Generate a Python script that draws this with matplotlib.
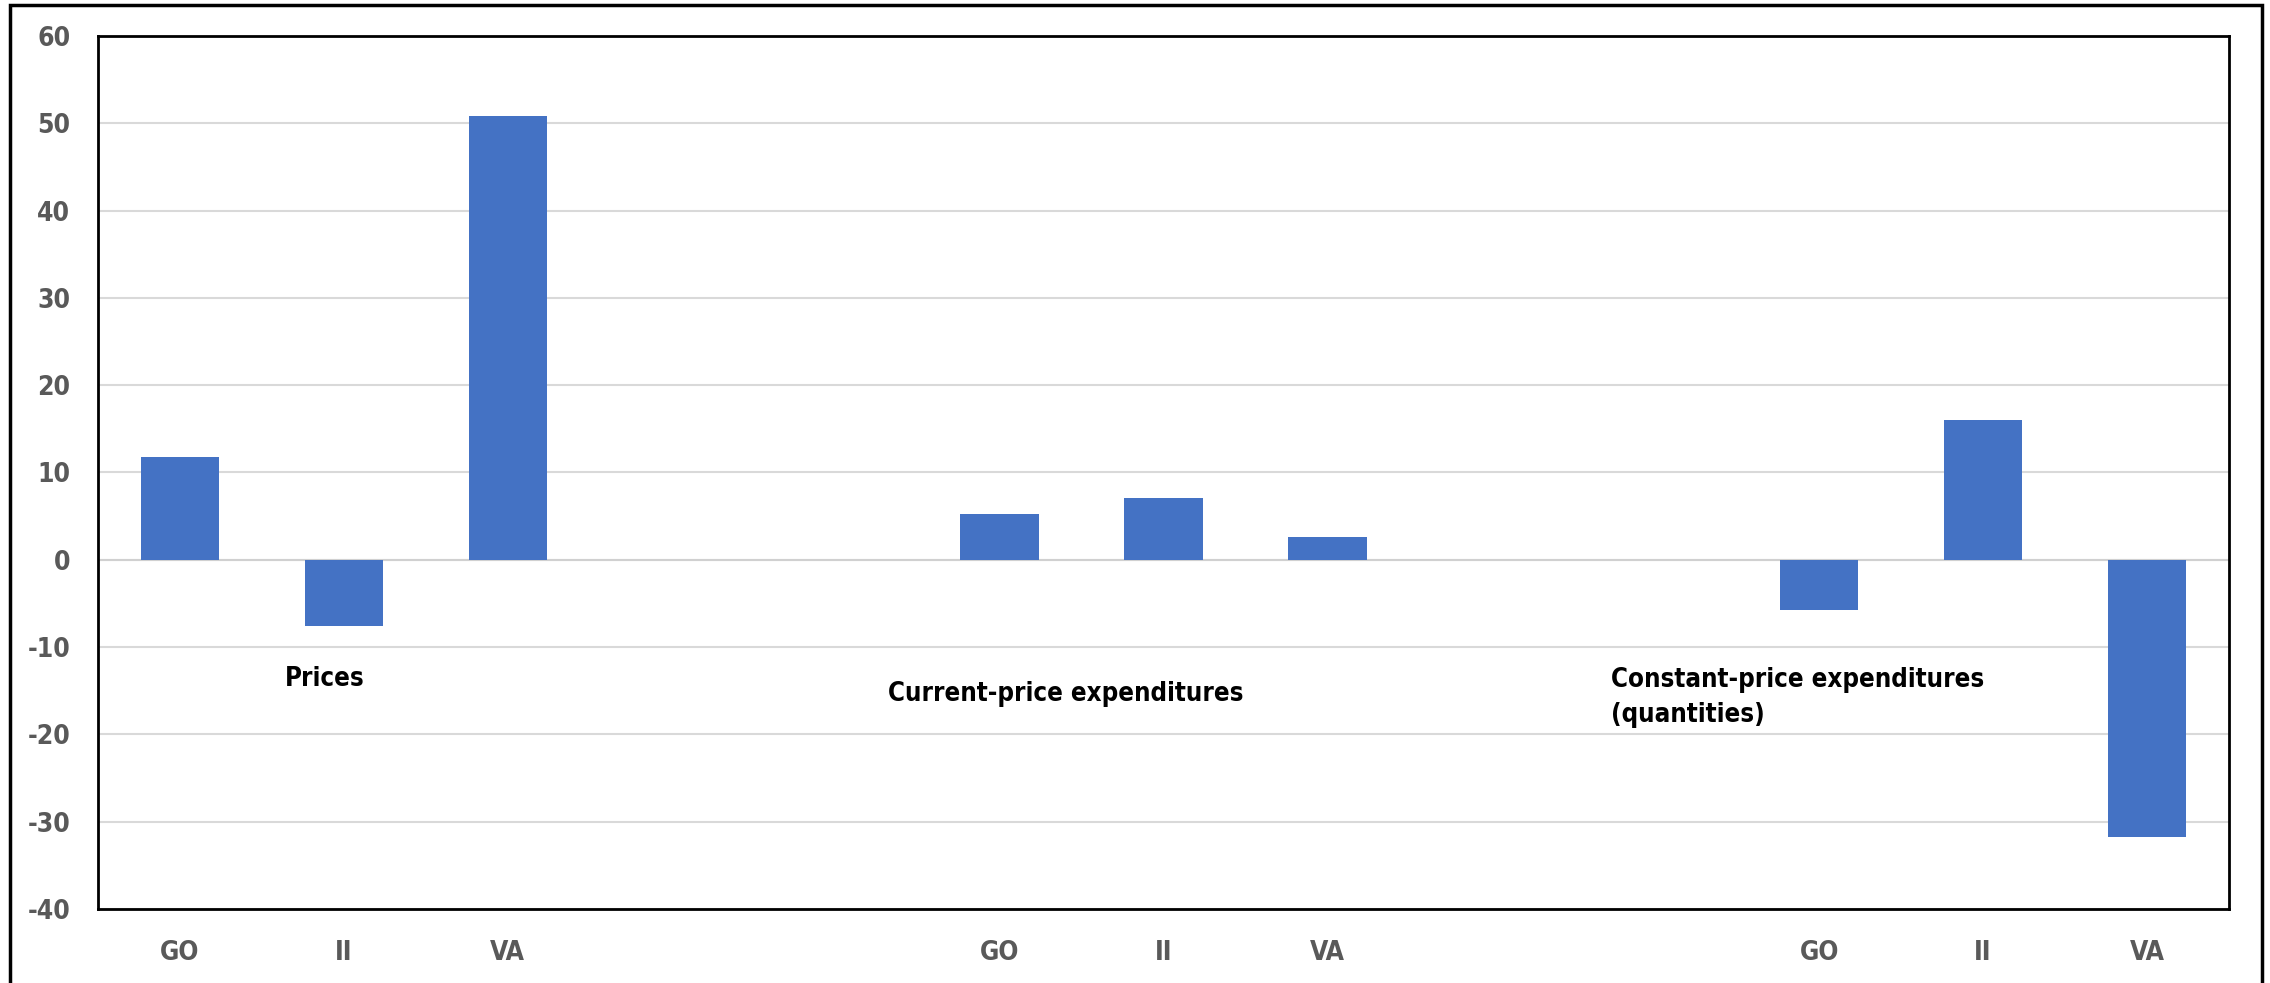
import numpy as np
import matplotlib
matplotlib.use("Agg")
import matplotlib.pyplot as plt
from matplotlib.patches import Rectangle

# Data
categories = ["GO", "II", "VA", "", "", "GO", "II", "VA", "", "", "GO", "II", "VA"]
values = [11.8, -7.6, 50.8, np.nan, np.nan, 5.3, 7.1, 2.6, np.nan, np.nan, -5.7, 16.0, -31.8]
group_labels = ["Prices", "Current-price expenditures", "Constant-price expenditures\n(quantities)"]
group_label_x = [0.64, 4.32, 8.73]
group_label_y = [-13.6, -15.4, -15.8]
yticks = [-40, -30, -20, -10, 0, 10, 20, 30, 40, 50, 60]

plt.rcParams["font.family"] = ["DejaVu Sans"]
plt.rcParams["font.stretch"] = "condensed"

fig = plt.figure(figsize=(22.7, 9.83), dpi=100)
ax = fig.add_axes([98 / 2270, 1 - 909 / 983, (2229 - 98) / 2270, (909 - 36) / 983])

x = np.arange(len(categories))
ax.bar(x, values, width=0.477, color="#4472C4", zorder=3)

ax.set_xlim(-0.5, len(categories) - 0.5)
ax.set_ylim(-40, 60)
ax.set_yticks(yticks)
ax.set_yticklabels([str(v) for v in yticks])
ax.set_xticks(x)
ax.set_xticklabels(categories)

ax.yaxis.grid(True, color="#D9D9D9", linewidth=1.5, zorder=0)
ax.set_axisbelow(True)
ax.axhline(0, color="#D0D0D0", linewidth=1.5, zorder=2)

for s in ax.spines.values():
    s.set_color("black")
    s.set_linewidth(2)

ax.tick_params(axis="both", length=0, labelsize=19, labelcolor="#595959")
ax.tick_params(axis="y", pad=20)
ax.tick_params(axis="x", pad=22)
for lab in ax.get_xticklabels() + ax.get_yticklabels():
    lab.set_fontweight("bold")
    lab.set_fontstretch("condensed")

for gx, gy, gl in zip(group_label_x, group_label_y, group_labels):
    ax.text(gx, gy, gl, ha="left", va="center", fontsize=18.5, fontweight="bold",
            fontstretch="condensed", color="black", linespacing=1.45, zorder=4)

# outer border
fig.patches.append(Rectangle((10 / 2270, -0.02), (2262 - 10) / 2270, 1 - 5 / 983 + 0.02,
                             transform=fig.transFigure, fill=False, edgecolor="black",
                             linewidth=2.5))

fig.savefig("out.png", dpi=100)
